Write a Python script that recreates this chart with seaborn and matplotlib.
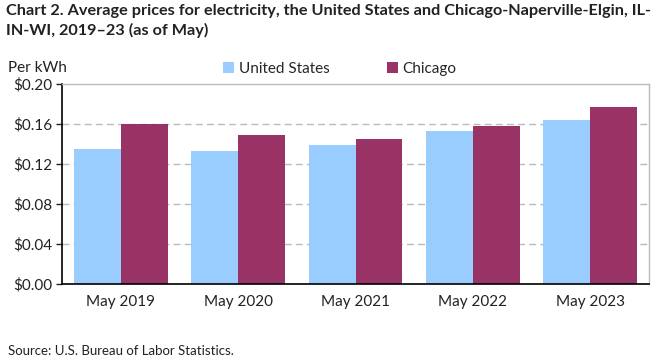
import matplotlib
matplotlib.use("Agg")
import matplotlib.pyplot as plt
import seaborn as sns
import pandas as pd
from matplotlib.patches import Patch

categories = ["May 2019", "May 2020", "May 2021", "May 2022", "May 2023"]
us_values = [0.135, 0.133, 0.139, 0.153, 0.164]
chicago_values = [0.160, 0.149, 0.145, 0.158, 0.177]
series_names = ["United States", "Chicago"]
colors = ["#99CCFF", "#993366"]
yticks = [0.00, 0.04, 0.08, 0.12, 0.16, 0.20]
ytick_labels = ["$0.00", "$0.04", "$0.08", "$0.12", "$0.16", "$0.20"]

df = pd.DataFrame({
    "period": categories * 2,
    "value": us_values + chicago_values,
    "series": [series_names[0]] * 5 + [series_names[1]] * 5,
})

sns.set_theme(style="white")
plt.rcParams["font.family"] = ["Lato", "DejaVu Sans"]

fig = plt.figure(figsize=(6.61, 3.6), dpi=100)
ax = fig.add_axes([62 / 661, 1 - 284 / 360, (649 - 62) / 661, (284 - 84) / 360])

sns.barplot(data=df, x="period", y="value", hue="series", palette=colors,
            width=0.8, saturation=1, ax=ax, legend=False, edgecolor="none")

ax.set_ylim(0, 0.20)
ax.set_xlim(-0.5, 4.5)
ax.set_yticks(yticks)
ax.set_yticklabels(ytick_labels)
ax.set_xlabel("")
ax.set_ylabel("")
ax.tick_params(axis="y", labelsize=11, colors="#222222", length=4, width=1,
               left=True, direction="out", pad=3)
ax.tick_params(axis="x", labelsize=11, colors="#222222", length=0, pad=8)
for t in yticks[1:-1]:
    ax.axhline(t, color="#BBBBBB", linestyle=(0, (5, 3)), linewidth=1, zorder=0)
ax.set_axisbelow(True)

for side in ["top", "right"]:
    ax.spines[side].set_color("#BBBBBB")
    ax.spines[side].set_linewidth(1)
for side in ["left", "bottom"]:
    ax.spines[side].set_color("#000000")
    ax.spines[side].set_linewidth(1.2)

fig.text(6 / 661, 1 - 4 / 360,
         "Chart 2. Average prices for electricity, the United States and Chicago-Naperville-Elgin, IL-\nIN-WI, 2019\u201323 (as of May)",
         ha="left", va="top", fontsize=11.7, fontweight="bold", color="#222222",
         linespacing=1.45)
fig.text(8 / 661, 1 - 68 / 360, "Per kWh", ha="left", va="center",
         fontsize=11, color="#222222")

handles = [Patch(facecolor=c, edgecolor="none") for c in colors]
fig.legend(handles, series_names, loc="center", bbox_to_anchor=(340 / 661, 1 - 69 / 360),
           ncol=2, frameon=False, fontsize=11, handlelength=0.7, handleheight=0.7,
           handletextpad=0.3, columnspacing=3.8)

fig.text(8 / 661, 1 - 351 / 360, "Source: U.S. Bureau of Labor Statistics.",
         ha="left", va="center", fontsize=9.5, color="#222222")

fig.savefig("out.png", dpi=100)
